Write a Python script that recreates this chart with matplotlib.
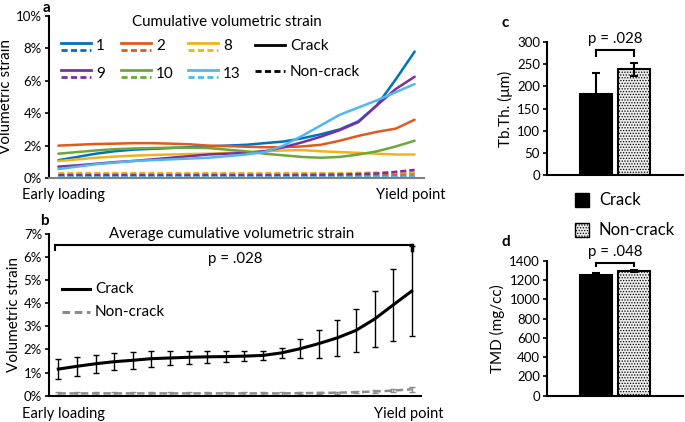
import matplotlib
matplotlib.use("Agg")
import matplotlib.pyplot as plt
from matplotlib.lines import Line2D
from matplotlib.patches import Rectangle
import numpy as np

plt.rcParams['font.family'] = ['Lato', 'DejaVu Sans']
plt.rcParams['hatch.color'] = '#a8a8a8'
plt.rcParams['hatch.linewidth'] = 0.6

W, H = 685, 422

# ---------------- data ----------------
steps = list(range(20))
specimen_labels = ["1", "2", "8", "9", "10", "13"]
specimen_colors = ["#0070c0", "#e05a1e", "#f2b21e", "#7b2f9e", "#6aa83a", "#4fb8f0"]
crack_1 = [1.1, 1.3, 1.5, 1.65, 1.75, 1.8, 1.85, 1.9, 1.95, 2.0, 2.05, 2.15, 2.25, 2.45, 2.7, 3.0, 3.5, 4.5, 6.1, 7.8]
crack_2 = [2.0, 2.05, 2.1, 2.12, 2.15, 2.15, 2.12, 2.08, 2.0, 1.97, 1.93, 1.9, 1.9, 1.95, 2.05, 2.3, 2.6, 2.85, 3.05, 3.6]
crack_8 = [1.05, 1.15, 1.25, 1.32, 1.38, 1.42, 1.45, 1.48, 1.5, 1.55, 1.6, 1.65, 1.7, 1.72, 1.65, 1.6, 1.55, 1.5, 1.45, 1.45]
crack_9 = [0.7, 0.78, 0.88, 0.98, 1.05, 1.15, 1.25, 1.35, 1.45, 1.5, 1.55, 1.65, 1.9, 2.2, 2.55, 2.95, 3.45, 4.5, 5.5, 6.25]
crack_10 = [1.5, 1.6, 1.7, 1.78, 1.82, 1.85, 1.87, 1.87, 1.85, 1.75, 1.65, 1.5, 1.4, 1.3, 1.25, 1.3, 1.45, 1.65, 1.95, 2.3]
crack_13 = [0.55, 0.7, 0.85, 0.95, 1.05, 1.1, 1.15, 1.2, 1.25, 1.35, 1.45, 1.6, 2.0, 2.6, 3.25, 3.9, 4.35, 4.8, 5.3, 5.8]
non_1 = [0.08, 0.08, 0.08, 0.08, 0.08, 0.08, 0.08, 0.08, 0.08, 0.08, 0.08, 0.08, 0.08, 0.08, 0.08, 0.08, 0.09, 0.1, 0.12, 0.15]
non_2 = [0.15, 0.15, 0.15, 0.15, 0.15, 0.15, 0.15, 0.15, 0.15, 0.15, 0.15, 0.15, 0.16, 0.16, 0.17, 0.18, 0.19, 0.2, 0.25, 0.3]
non_8 = [0.3, 0.3, 0.3, 0.3, 0.3, 0.3, 0.3, 0.3, 0.3, 0.3, 0.3, 0.3, 0.3, 0.3, 0.3, 0.3, 0.32, 0.33, 0.34, 0.36]
non_9 = [0.18, 0.18, 0.18, 0.18, 0.18, 0.18, 0.18, 0.18, 0.18, 0.18, 0.18, 0.18, 0.18, 0.19, 0.2, 0.21, 0.24, 0.28, 0.38, 0.5]
non_10 = [0.03, 0.03, 0.03, 0.03, 0.03, 0.03, 0.03, 0.03, 0.03, 0.03, 0.03, 0.03, 0.03, 0.03, 0.03, 0.03, 0.03, 0.04, 0.05, 0.06]
non_13 = [0.05, 0.05, 0.05, 0.05, 0.05, 0.05, 0.05, 0.05, 0.05, 0.05, 0.05, 0.05, 0.05, 0.05, 0.05, 0.06, 0.06, 0.07, 0.08, 0.1]
crack_series = [crack_1, crack_2, crack_8, crack_9, crack_10, crack_13]
non_series = [non_1, non_2, non_8, non_9, non_10, non_13]

avg_crack = [1.15, 1.27, 1.38, 1.47, 1.53, 1.6, 1.63, 1.66, 1.68, 1.69, 1.71, 1.74, 1.85, 2.03, 2.25, 2.5, 2.82, 3.31, 3.92, 4.52]
avg_crack_err = [0.43, 0.42, 0.4, 0.38, 0.36, 0.34, 0.31, 0.28, 0.25, 0.22, 0.2, 0.18, 0.23, 0.4, 0.6, 0.78, 0.93, 1.2, 1.57, 1.96]
avg_non = [0.1, 0.1, 0.1, 0.1, 0.1, 0.1, 0.1, 0.1, 0.1, 0.1, 0.1, 0.1, 0.1, 0.11, 0.12, 0.13, 0.15, 0.18, 0.22, 0.28]
avg_non_err = [0.05, 0.05, 0.05, 0.05, 0.05, 0.05, 0.05, 0.05, 0.05, 0.05, 0.05, 0.05, 0.05, 0.05, 0.05, 0.05, 0.05, 0.06, 0.07, 0.1]

groups = ["Crack", "Non-crack"]
tbth = [182, 238]
tbth_err = [49, 14]
tmd = [1255, 1293]
tmd_err = [20, 10]

a_ticks = [0, 2, 4, 6, 8, 10]
b_ticks = [0, 1, 2, 3, 4, 5, 6, 7]
c_ticks = [0, 50, 100, 150, 200, 250, 300]
d_ticks = [0, 200, 400, 600, 800, 1000, 1200, 1400]

# ---------------- figure ----------------
fig = plt.figure(figsize=(W / 100, H / 100), dpi=100)

TXT = 10.5
TICK = 9.5
LEG = 11


def ax_px(l, t, r, b):
    return fig.add_axes([l / W, 1 - b / H, (r - l) / W, (b - t) / H])


def style(ax, bottom_color='black'):
    for s in ['top', 'right']:
        ax.spines[s].set_visible(False)
    ax.spines['left'].set_linewidth(1.5)
    ax.spines['bottom'].set_linewidth(1.5)
    ax.spines['bottom'].set_color(bottom_color)
    ax.tick_params(axis='y', length=3, width=1.2, labelsize=TICK, pad=2, direction='out')
    ax.tick_params(axis='x', length=0, labelbottom=False)
    ax.patch.set_alpha(0)


# ---------- panel a ----------
axa = ax_px(49, 16, 424, 178)
style(axa, '#808080')
for ys, col in zip(crack_series, specimen_colors):
    axa.plot(steps, ys, color=col, lw=1.8, solid_capstyle='round')
for ys, col in zip(non_series, specimen_colors):
    axa.plot(steps, ys, color=col, lw=1.8, ls=(0, (2.4, 1.2)))
axa.set_xlim(-0.5, 19.5)
axa.set_ylim(0, 10)
axa.set_yticks(a_ticks)
axa.set_yticklabels([f"{t}%" for t in a_ticks])
axa.set_ylabel("Volumetric strain", fontsize=TXT + 0.5, labelpad=2)
axa.text(0.473, 0.96, "Cumulative volumetric strain", transform=axa.transAxes,
         ha='center', va='center', fontsize=TXT + 0.3)


def fx(px):
    return (px - 49) / (424 - 49)


def fy(py):
    return (178 - py) / (178 - 16)


cols_x = [61, 121, 188]
rows_y = [(43, 50), (70, 77)]
order = [[0, 1, 2], [3, 4, 5]]
for r, idxs in enumerate(order):
    for c, idx in enumerate(idxs):
        x0 = cols_x[c]
        ys, yd = rows_y[r]
        axa.add_line(Line2D([fx(x0), fx(x0 + 30)], [fy(ys), fy(ys)], transform=axa.transAxes,
                            color=specimen_colors[idx], lw=2))
        axa.add_line(Line2D([fx(x0), fx(x0 + 30)], [fy(yd), fy(yd)], transform=axa.transAxes,
                            color=specimen_colors[idx], lw=2, ls=(0, (2.2, 1.2))))
        axa.text(fx(x0 + 35), fy((ys + yd) / 2), specimen_labels[idx], transform=axa.transAxes,
                 ha='left', va='center', fontsize=LEG)
axa.add_line(Line2D([fx(255), fx(285)], [fy(45), fy(45)], transform=axa.transAxes, color='black', lw=2))
axa.text(fx(290), fy(46), "Crack", transform=axa.transAxes, ha='left', va='center', fontsize=LEG)
axa.add_line(Line2D([fx(255), fx(285)], [fy(71), fy(71)], transform=axa.transAxes, color='black', lw=2,
                    ls=(0, (2.2, 1.2))))
axa.text(fx(290), fy(72), "Non-crack", transform=axa.transAxes, ha='left', va='center', fontsize=LEG)

fig.text(43 / W, 1 - 1 / H, "a", fontsize=11, fontweight='bold', ha='left', va='top')
fig.text(22 / W, 1 - 195 / H, "Early loading", fontsize=TXT, ha='left', va='center')
fig.text(446 / W, 1 - 195 / H, "Yield point", fontsize=TXT, ha='right', va='center')

# ---------- panel b ----------
axb = ax_px(49, 233.7, 421, 395.7)
style(axb)
axb.errorbar(steps, avg_non, yerr=avg_non_err, color='#8c8c8c', lw=1.8, ls=(0, (3, 1.5)),
             elinewidth=1, capsize=2.5, capthick=1)
axb.errorbar(steps, avg_crack, yerr=avg_crack_err, color='black', lw=2.2,
             elinewidth=1, ecolor='black', capsize=2.5, capthick=1)
axb.set_xlim(-0.5, 19.5)
axb.set_ylim(0, 7)
axb.set_yticks(b_ticks)
axb.set_yticklabels([f"{t}%" for t in b_ticks])
axb.set_ylabel("Volumetric strain", fontsize=TXT + 0.5, labelpad=2)
br = 6.52
axb.plot([-0.2, 19], [br, br], color='black', lw=1.5, clip_on=False)
axb.plot([-0.2, -0.2], [br, 6.3], color='black', lw=1.5, clip_on=False)
axb.plot([19, 19], [br, 6.3], color='black', lw=2.5, clip_on=False)
axb.text(9.3, 6.98, "Average cumulative volumetric strain", ha='center', va='center', fontsize=TXT + 0.3)
axb.text(9.5, 5.92, "p = .028", ha='center', va='center', fontsize=TXT + 0.3)


def bfx(px):
    return (px - 49) / (421 - 49)


def bfy(py):
    return (395.7 - py) / (395.7 - 233.7)


axb.add_line(Line2D([bfx(62), bfx(90)], [bfy(289), bfy(289)], transform=axb.transAxes, color='black', lw=2.2))
axb.text(bfx(95), bfy(289), "Crack", transform=axb.transAxes, ha='left', va='center', fontsize=LEG)
axb.add_line(Line2D([bfx(62), bfx(90)], [bfy(312), bfy(312)], transform=axb.transAxes, color='#8c8c8c', lw=2.2,
                    ls=(0, (2.5, 1.5))))
axb.text(bfx(95), bfy(312), "Non-crack", transform=axb.transAxes, ha='left', va='center', fontsize=LEG)

fig.text(40 / W, 1 - 221 / H, "b", fontsize=11, fontweight='bold', ha='left', va='center')
fig.text(22 / W, 1 - 414 / H, "Early loading", fontsize=TXT, ha='left', va='center')
fig.text(443 / W, 1 - 414 / H, "Yield point", fontsize=TXT, ha='right', va='center')


# ---------- panel c & d ----------
def bar_panel(ax, vals, errs, ymax, ticks, ylabel, ptext, br_y, br_drop, txt_y):
    style(ax)
    x = np.arange(len(groups))
    ax.bar(x[0], vals[0], width=0.83, color='black', edgecolor='black', lw=1.5)
    ax.bar(x[1], vals[1], width=0.83, color='#ececec', edgecolor='black', lw=1.5, hatch='......')
    ax.errorbar(x, vals, yerr=errs, fmt='none', ecolor='black', elinewidth=1.5, capsize=3, capthick=1.5)
    ax.set_xlim(-1.27, 2.26)
    ax.set_ylim(0, ymax)
    ax.set_yticks(ticks)
    ax.set_ylabel(ylabel, fontsize=TXT + 0.5, labelpad=3)
    ax.plot([0, 1], [br_y, br_y], color='black', lw=1.5, clip_on=False)
    ax.plot([0, 0], [br_y, br_y - br_drop], color='black', lw=1.5, clip_on=False)
    ax.plot([1, 1], [br_y, br_y - br_drop], color='black', lw=1.5, clip_on=False)
    ax.text(0.5, txt_y, ptext, ha='center', va='center', fontsize=TXT + 0.3, clip_on=False)


axc = ax_px(547, 42, 683, 175)
bar_panel(axc, tbth, tbth_err, 300, c_ticks, "Tb.Th. (μm)", "p = .028", 282, 14, 306)
fig.text(501 / W, 1 - 23 / H, "c", fontsize=11, fontweight='bold', ha='left', va='center')

axd = ax_px(547, 261, 683, 395.7)
bar_panel(axd, tmd, tmd_err, 1400, d_ticks, "TMD (mg/cc)", "p = .048", 1376, 25, 1490)
fig.text(501 / W, 1 - 242 / H, "d", fontsize=11, fontweight='bold', ha='left', va='center')

fig.patches.append(Rectangle((575 / W, 1 - 207 / H), 14 / W, 14 / H, transform=fig.transFigure,
                             facecolor='black', edgecolor='black', lw=1))
fig.text(599 / W, 1 - 200 / H, "Crack", fontsize=LEG + 1, ha='left', va='center')
fig.patches.append(Rectangle((575 / W, 1 - 237 / H), 14 / W, 14 / H, transform=fig.transFigure,
                             facecolor='#ececec', edgecolor='black', lw=1, hatch='......'))
fig.text(599 / W, 1 - 230 / H, "Non-crack", fontsize=LEG + 1, ha='left', va='center')

fig.savefig("out.png", dpi=100)
